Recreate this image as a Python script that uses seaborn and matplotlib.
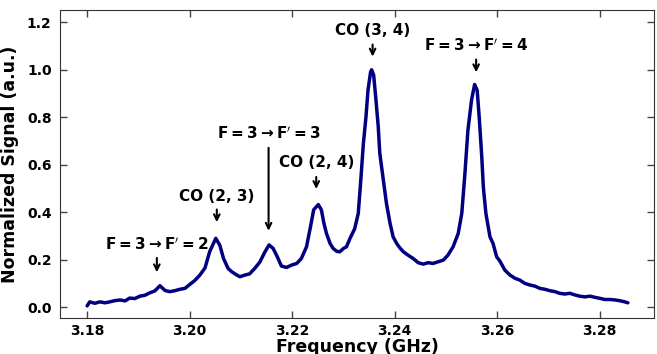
import numpy as np
import pandas as pd
import matplotlib
matplotlib.use("Agg")
import matplotlib.pyplot as plt
import seaborn as sns

# spectrum (GHz, normalized signal)
freq = [3.1800, 3.1805, 3.1815, 3.1825, 3.1835, 3.1844, 3.1854, 3.1864, 3.1874, 3.1883,
        3.1893, 3.1903, 3.1913, 3.1922, 3.1932, 3.1942, 3.1952, 3.1961, 3.1971, 3.1981,
        3.1991, 3.2000, 3.2010, 3.2020, 3.2030, 3.2039, 3.2051, 3.2059, 3.2066, 3.2075,
        3.2082, 3.2092, 3.2098, 3.2108, 3.2117, 3.2127, 3.2137, 3.2147, 3.2155, 3.2163,
        3.2171, 3.2179, 3.2189, 3.2199, 3.2209, 3.2218, 3.2228, 3.2235, 3.2242, 3.2251,
        3.2257, 3.2262, 3.2267, 3.2274, 3.2280, 3.2287, 3.2293, 3.2300, 3.2306, 3.2313,
        3.2322, 3.2329, 3.2333, 3.2339, 3.2344, 3.2348, 3.2353, 3.2355, 3.2359, 3.2363,
        3.2368, 3.2371, 3.2378, 3.2384, 3.2391, 3.2397, 3.2404, 3.2410, 3.2417, 3.2426,
        3.2436, 3.2446, 3.2456, 3.2465, 3.2475, 3.2485, 3.2495, 3.2504, 3.2514, 3.2524,
        3.2531, 3.2537, 3.2543, 3.2550, 3.2555, 3.2556, 3.2561, 3.2565, 3.2570, 3.2573,
        3.2578, 3.2586, 3.2592, 3.2599, 3.2605, 3.2615, 3.2625, 3.2635, 3.2644, 3.2654,
        3.2664, 3.2674, 3.2683, 3.2693, 3.2703, 3.2713, 3.2722, 3.2732, 3.2742, 3.2752,
        3.2761, 3.2771, 3.2781, 3.2791, 3.2800, 3.2810, 3.2820, 3.2830, 3.2839, 3.2849,
        3.2855]
signal = [0.005, 0.022, 0.016, 0.022, 0.018, 0.022, 0.027, 0.030, 0.026, 0.038,
          0.036, 0.046, 0.050, 0.060, 0.068, 0.090, 0.070, 0.065, 0.069, 0.075,
          0.079, 0.095, 0.112, 0.135, 0.165, 0.233, 0.290, 0.260, 0.205, 0.163,
          0.149, 0.135, 0.128, 0.135, 0.140, 0.163, 0.190, 0.233, 0.262, 0.247,
          0.212, 0.173, 0.167, 0.177, 0.184, 0.205, 0.254, 0.330, 0.410, 0.432,
          0.410, 0.353, 0.310, 0.268, 0.247, 0.235, 0.233, 0.247, 0.254, 0.290,
          0.330, 0.395, 0.507, 0.690, 0.800, 0.914, 0.990, 1.000, 0.978, 0.886,
          0.760, 0.648, 0.535, 0.437, 0.353, 0.296, 0.268, 0.250, 0.233, 0.219,
          0.205, 0.187, 0.181, 0.187, 0.184, 0.191, 0.198, 0.219, 0.254, 0.310,
          0.395, 0.560, 0.746, 0.872, 0.928, 0.938, 0.914, 0.800, 0.633, 0.507,
          0.395, 0.296, 0.268, 0.212, 0.195, 0.156, 0.135, 0.121, 0.114, 0.100,
          0.093, 0.088, 0.079, 0.075, 0.069, 0.065, 0.058, 0.055, 0.058, 0.051,
          0.046, 0.043, 0.046, 0.041, 0.037, 0.032, 0.032, 0.030, 0.027, 0.022,
          0.018]

# peak labels: text position, arrow start and arrow tip
labels = [r"$\mathbf{F=3\rightarrow F^{\prime}=2}$", "CO (2, 3)",
          r"$\mathbf{F=3\rightarrow F^{\prime}=3}$", "CO (2, 4)", "CO (3, 4)",
          r"$\mathbf{F=3\rightarrow F^{\prime}=4}$"]
label_x = [3.1936, 3.2053, 3.2154, 3.2247, 3.2357, 3.2559]
label_y = [0.261, 0.468, 0.732, 0.611, 1.167, 1.100]
arrow_top = [0.219, 0.423, 0.683, 0.560, 1.118, 1.055]
arrow_tip = [0.135, 0.346, 0.310, 0.486, 1.044, 0.978]

df = pd.DataFrame({"Frequency": freq, "Signal": signal})

sns.set_style("ticks")
plt.rcParams["font.family"] = ["DejaVu Sans"]
plt.rcParams["font.weight"] = "bold"
plt.rcParams["text.color"] = "black"
plt.rcParams["axes.labelcolor"] = "black"
plt.rcParams["xtick.color"] = "#444444"
plt.rcParams["ytick.color"] = "#444444"
plt.rcParams["xtick.labelcolor"] = "black"
plt.rcParams["ytick.labelcolor"] = "black"

fig = plt.figure(figsize=(6.57, 3.54), dpi=100)
ax = fig.add_axes([0.0913, 0.1017, 0.9041, 0.8701])

sns.lineplot(data=df, x="Frequency", y="Signal", color="navy", lw=2.5,
             estimator=None, sort=False, ax=ax)

for txt, tx, ty, y0, y1 in zip(labels, label_x, label_y, arrow_top, arrow_tip):
    ax.text(tx, ty, txt, ha="center", va="center", fontsize=11, fontweight="bold")
    ax.annotate("", xy=(tx, y1), xytext=(tx, y0),
                arrowprops=dict(arrowstyle="->", lw=1.5, color="black"))

ax.set_xlim(3.1747, 3.2906)
ax.set_ylim(-0.046, 1.252)
ax.set_xticks(np.arange(3.18, 3.281, 0.02))
ax.set_yticks(np.arange(0, 1.21, 0.2))
ax.xaxis.set_major_formatter(matplotlib.ticker.FormatStrFormatter("%.2f"))
ax.yaxis.set_major_formatter(matplotlib.ticker.FormatStrFormatter("%.1f"))
ax.tick_params(direction="in", top=True, right=True, length=5, width=1, labelsize=10)
ax.tick_params(axis="x", pad=4)
ax.tick_params(axis="y", pad=6)
for lab in ax.get_xticklabels() + ax.get_yticklabels():
    lab.set_fontweight("bold")
for s in ax.spines.values():
    s.set_color("#333333")

ax.set_xlabel("Frequency (GHz)", fontsize=12.5, fontweight="bold", labelpad=0)
ax.set_ylabel("Normalized Signal (a.u.)", fontsize=12.5, fontweight="bold", labelpad=6)

fig.savefig("out.png", dpi=100)
